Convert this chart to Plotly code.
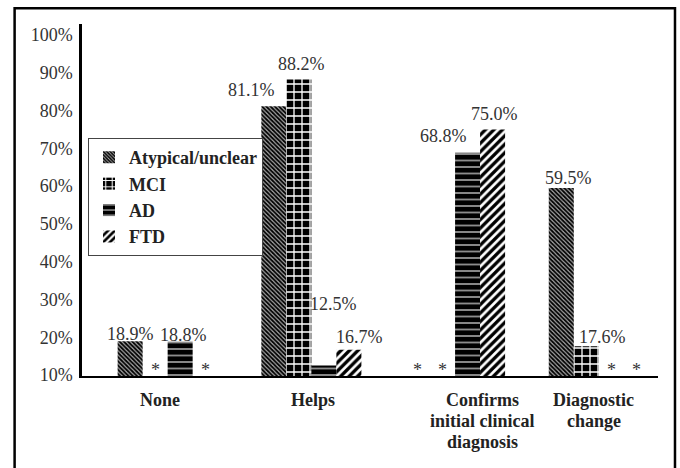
import plotly.graph_objects as go

# Categories and per-group percentages (None = no cases, marked with "*")
categories = ["None", "Helps", "Confirms initial clinical diagnosis", "Diagnostic change"]
category_lines = [["None"], ["Helps"], ["Confirms", "initial clinical", "diagnosis"], ["Diagnostic", "change"]]
series_names = ["Atypical/unclear", "MCI", "AD", "FTD"]
atypical = [18.9, 81.1, None, 59.5]
mci = [None, 88.2, None, 17.6]
ad = [18.8, 12.5, 68.8, None]
ftd = [None, 16.7, 75.0, None]
y_ticks = [10, 20, 30, 40, 50, 60, 70, 80, 90, 100]
y_tick_labels = [f"{t}%" for t in y_ticks]

series_values = [atypical, mci, ad, ftd]

FONT = "Liberation Serif"
TEXT_GRAY = "#333333"

patterns = [
    dict(shape="\\", fgcolor="black", bgcolor="#a8a8a8", size=3, solidity=0.6, fgopacity=1),
    dict(shape="+", fgcolor="white", bgcolor="black", size=8, solidity=0.3, fgopacity=1),
    dict(shape="-", fgcolor="black", bgcolor="#c8c8c8", size=6.5, solidity=0.8, fgopacity=1),
    dict(shape="/", fgcolor="black", bgcolor="white", size=6, solidity=0.55, fgopacity=1),
]

x_idx = list(range(len(categories)))
fig = go.Figure()
for name, vals, pat in zip(series_names, series_values, patterns):
    fig.add_trace(go.Bar(
        x=x_idx, y=vals, name=name,
        marker=dict(color=pat["bgcolor"], line=dict(width=0), pattern=pat),
        hoverinfo="skip",
    ))

# bar geometry: 4 slots per group
n_series = len(series_names)
bargap = 0.304
slot = (1 - bargap) / n_series

# pixel nudges for value labels (series, group) -> (dx, dy above bar top)
label_nudge = {
    (0, 0): (0, 7), (2, 0): (3, 7),
    (0, 1): (-22, 16), (1, 1): (3, 16), (2, 1): (10, 62), (3, 1): (11, 13),
    (2, 2): (-24, 17), (3, 2): (2, 15),
    (0, 3): (7, 10), (1, 3): (16, 9),
}

annotations = []
for s, vals in enumerate(series_values):
    for g, v in enumerate(vals):
        xc = g + (s - (n_series - 1) / 2) * slot
        if v is None:
            annotations.append(dict(
                x=xc, y=9.735, xref="x", yref="y", text="*", showarrow=False,
                yanchor="bottom", yshift=-6,
                font=dict(family=FONT, size=18, color=TEXT_GRAY)))
        else:
            dx, dy = label_nudge.get((s, g), (0, 8))
            annotations.append(dict(
                x=xc, y=v, xref="x", yref="y", text=f"{v:.1f}%", showarrow=False,
                yanchor="middle", xshift=dx, yshift=dy,
                font=dict(family=FONT, size=18, color=TEXT_GRAY)))

# category labels below the axis
cat_shift = [-8, 2, 27, -5]
for g, lines in enumerate(category_lines):
    for i, line in enumerate(lines):
        annotations.append(dict(
            x=g, y=0, xref="x", yref="paper", text=line, showarrow=False,
            yanchor="middle", xshift=cat_shift[g], yshift=-24 - 21 * i,
            font=dict(family=FONT, size=18, color="#222222", weight="bold")))

fig.update_layout(
    width=680, height=468,
    margin=dict(l=82, r=22, t=24, b=92),
    paper_bgcolor="white", plot_bgcolor="white",
    barmode="group", bargap=bargap, bargroupgap=0,
    font=dict(family=FONT, size=18, color=TEXT_GRAY),
    showlegend=True,
    legend=dict(
        x=0.0104, y=0.676, xanchor="left", yanchor="top",
        bgcolor="white", bordercolor="#444444", borderwidth=1,
        font=dict(family=FONT, size=18, color="#222222", weight="bold"),
        tracegroupgap=0, itemclick=False,
    ),
    annotations=annotations,
    shapes=[dict(type="rect", xref="paper", yref="paper",
                 x0=-0.117, x1=1.0295, y0=-0.35, y1=1.045,
                 line=dict(color="black", width=2.5), fillcolor="rgba(0,0,0,0)")],
)
fig.update_xaxes(
    range=[-0.596, 3.412], showline=True, linecolor="black", linewidth=2,
    showgrid=False, zeroline=False, showticklabels=False, ticks="",
)
fig.update_yaxes(
    range=[9.735, 102.9], tickmode="array", tickvals=y_ticks, ticktext=y_tick_labels,
    showline=True, linecolor="black", linewidth=2.5,
    showgrid=False, zeroline=False, ticks="", ticklabelstandoff=3,
    tickfont=dict(family=FONT, size=18, color=TEXT_GRAY),
)

fig.write_html("out.html")
